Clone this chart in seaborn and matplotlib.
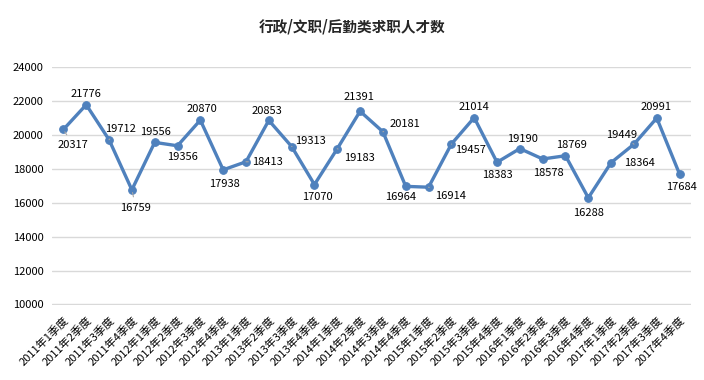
import pandas as pd
import matplotlib
matplotlib.use('Agg')
import matplotlib.pyplot as plt
import seaborn as sns

# quarters 2011 Q1 .. 2017 Q4
years = [2011, 2012, 2013, 2014, 2015, 2016, 2017]
quarters = [1, 2, 3, 4]
quarter_labels = [f'{y}年{q}季度' for y in years for q in quarters]

talent_counts = [20317, 21776, 19712, 16759, 19556, 19356, 20870, 17938,
                 18413, 20853, 19313, 17070, 19183, 21391, 20181, 16964,
                 16914, 19457, 21014, 18383, 19190, 18578, 18769, 16288,
                 18364, 19449, 20991, 17684]

y_ticks = [10000, 12000, 14000, 16000, 18000, 20000, 22000, 24000]

# label offsets in pixels (dx, dy up) and whether a leader line is drawn
label_offsets = [(10, -16, True), (0, 11, False), (11, 11, True), (4, -18, True),
                 (1, 10, False), (5, -11, False), (2, 11, False), (1, -14, False),
                 (21, 0, True), (-2, 9, False), (19, 6, True), (3, -12, False),
                 (22, -9, True), (-1, 14, False), (22, 8, True), (-5, -11, False),
                 (22, -9, True), (19, -6, True), (0, 11, False), (0, -13, False),
                 (3, 10, False), (6, -14, False), (6, 11, False), (0, -15, False),
                 (28, 0, False), (-12, 9, True), (-1, 11, False), (2, -13, False)]

df = pd.DataFrame({'quarter': quarter_labels, 'count': talent_counts})

sns.set_style('white')
plt.rcParams['font.family'] = ['Noto Sans CJK SC', 'DejaVu Sans']

fig = plt.figure(figsize=(7.04, 3.8), dpi=100)
ax = fig.add_axes([52 / 704, 1 - 305 / 380, (691 - 52) / 704, (305 - 67) / 380])

line_color = '#4F81BD'
sns.lineplot(data=df, x='quarter', y='count', ax=ax, color=line_color,
             linewidth=2.4, marker='o', markersize=5.5, markeredgecolor=line_color,
             sort=False)

for i, (val, (dx, dy, leader)) in enumerate(zip(talent_counts, label_offsets)):
    arrow = dict(arrowstyle='-', color='#A6A6A6', lw=0.8, shrinkA=2, shrinkB=2) if leader else None
    ax.annotate(str(val), xy=(i, val), xytext=(dx * 0.72, dy * 0.72),
                textcoords='offset points', ha='center', va='center',
                fontsize=8, color='#000000', arrowprops=arrow)

ax.set_xlim(-0.5, len(quarter_labels) - 0.5)
ax.set_ylim(9970, 24000)
ax.set_yticks(y_ticks)
ax.set_yticklabels([str(t) for t in y_ticks])
ax.set_xticks(range(len(quarter_labels)))
ax.set_xticklabels(quarter_labels, rotation=45, ha='right', rotation_mode='anchor')
ax.tick_params(axis='both', length=0, labelsize=8, colors='#000000')
ax.tick_params(axis='y', pad=6)
ax.tick_params(axis='x', pad=7)
ax.grid(axis='y', color='#D9D9D9', linewidth=1)
ax.grid(axis='x', visible=False)
ax.set_axisbelow(True)
for s in ax.spines.values():
    s.set_visible(False)
ax.set_xlabel('')
ax.set_ylabel('')

fig.text(0.5, 1 - 27 / 380, '行政/文职/后勤类求职人才数', ha='center', va='center',
         fontsize=10.5, fontweight='bold')

fig.savefig('out.png', dpi=100)
